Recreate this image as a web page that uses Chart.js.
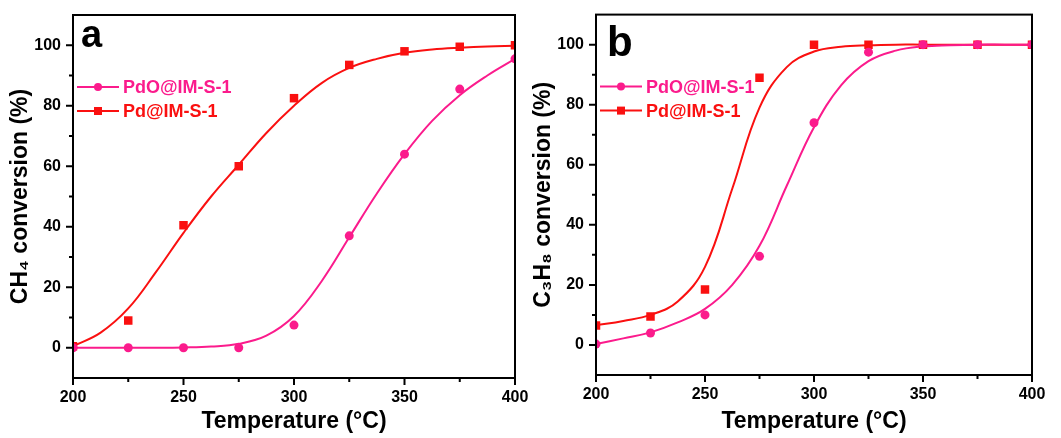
<!DOCTYPE html>
<html>
<head>
<meta charset="utf-8">
<title>CH4 / C3H8 conversion</title>
<script src="https://cdn.jsdelivr.net/npm/chart.js@4.4.0/dist/chart.umd.min.js"></script>
<style>
    html, body { margin: 0; padding: 0; background: #fff; }
    #wrap { position: relative; width: 1061px; height: 438px; overflow: hidden; }
    .panel { position: absolute; top: 0; height: 438px; }
    #panelA { left: 0; width: 545px; }
    #panelB { left: 530px; width: 531px; }
</style>
</head>
<body>
<div id="wrap">
    <div class="panel" id="panelA"><canvas id="chartA"></canvas></div>
    <div class="panel" id="panelB"><canvas id="chartB"></canvas></div>
</div>
<script>
// measured points
const temps = [200, 225, 250, 275, 300, 325, 350, 375, 400];
const ch4PdO = [0, 0, 0, 0, 7.5, 37, 64, 85.5, 95.5];
const ch4Pd = [0.5, 9, 40.5, 60, 82.5, 93.5, 98, 99.5, 100];
const c3h8PdO = [0.3, 4, 10, 29.5, 74, 97.5, 100, 100, 100];
const c3h8Pd = [6.5, 9.5, 18.5, 89, 100, 100, 100, 100, 100];

// fitted curves, every 12.5 °C
const fitTemps = [200, 212.5, 225, 237.5, 250, 262.5, 275, 287.5, 300, 312.5, 325, 337.5, 350, 362.5, 375, 387.5, 400];
const ch4PdOFit = [0, 0, 0, 0, 0.1, 0.4, 1.3, 4, 10.5, 22, 36.5, 51, 64, 75, 83.5, 90, 95.5];
const ch4PdFit = [0.5, 5, 13, 25, 38, 50, 60.5, 71, 80, 87.5, 92.5, 95.5, 97.5, 98.6, 99.2, 99.6, 99.8];
const c3h8PdOFit = [0.3, 2.2, 4.2, 7.5, 12, 20, 33, 53, 72.5, 86.5, 94.5, 98, 99.4, 99.8, 100, 100, 100];
const c3h8PdFit = [6.5, 8, 10, 14.5, 26, 52, 79, 92.5, 97.7, 99.3, 99.8, 100, 100, 100, 100, 100, 100];

// axis ticks
const xMajor = [200, 250, 300, 350, 400];
const xMinor = [225, 275, 325, 375];
const yMajor = [0, 20, 40, 60, 80, 100];
const yMinor = [10, 30, 50, 70, 90];

const PINK = '#fb1b8c';
const RED = '#fa1010';
const FONT = "'Liberation Sans', Arial, sans-serif";

function toXY(xs, ys) {
    return xs.map((x, i) => ({ x: x, y: ys[i] }));
}

// frame, minor/major ticks, legend and panel letter
const framePlugin = {
    id: 'frame',
    afterDatasetsDraw(chart, args, opts) {
        const { ctx, chartArea: a, scales: { x, y } } = chart;
        ctx.save();
        ctx.strokeStyle = '#000';
        ctx.lineWidth = 2;
        ctx.strokeRect(a.left, a.top, a.right - a.left, a.bottom - a.top);

        ctx.beginPath();
        yMajor.forEach(v => { const p = y.getPixelForValue(v); ctx.moveTo(a.left - 7, p); ctx.lineTo(a.left, p); });
        yMinor.forEach(v => { const p = y.getPixelForValue(v); ctx.moveTo(a.left - 4, p); ctx.lineTo(a.left, p); });
        xMajor.forEach(v => { const p = x.getPixelForValue(v); ctx.moveTo(p, a.bottom); ctx.lineTo(p, a.bottom + 7); });
        xMinor.forEach(v => { const p = x.getPixelForValue(v); ctx.moveTo(p, a.bottom); ctx.lineTo(p, a.bottom + 4); });
        ctx.stroke();

        // legend
        const items = chart.data.datasets.filter(d => d.showInLegend);
        items.forEach((d, i) => {
            const ly = a.top + 72 + i * 24;
            ctx.strokeStyle = d.borderColor;
            ctx.lineWidth = 2;
            ctx.beginPath();
            ctx.moveTo(a.left + 4, ly);
            ctx.lineTo(a.left + 46, ly);
            ctx.stroke();
            ctx.fillStyle = d.backgroundColor;
            const mx = a.left + 25;
            if (d.pointStyle === 'rect') {
                ctx.fillRect(mx - 4, ly - 4, 8, 8);
            } else {
                ctx.beginPath();
                ctx.arc(mx, ly, 4, 0, Math.PI * 2);
                ctx.fill();
            }
            ctx.font = 'bold 18px ' + FONT;
            ctx.textBaseline = 'middle';
            ctx.textAlign = 'left';
            ctx.fillText(d.label, a.left + 50, ly + 1);
        });

        // panel letter
        ctx.fillStyle = '#000';
        ctx.font = 'bold ' + opts.letterSize + 'px ' + FONT;
        ctx.textBaseline = 'alphabetic';
        ctx.fillText(opts.letter, a.left + opts.letterDx, a.top + opts.letterDy);
        ctx.restore();
    }
};

function makePanel(canvasId, cfg) {
    const ctx = document.getElementById(canvasId).getContext('2d');
    const tickFont = { family: FONT, size: 16, weight: 'bold' };

    return new Chart(ctx, {
        type: 'line',
        data: {
            datasets: [
                {
                    label: 'PdO@IM-S-1',
                    data: toXY(temps, cfg.pdo),
                    showLine: false,
                    pointStyle: 'circle',
                    pointRadius: 4.5,
                    pointBorderWidth: 0,
                    backgroundColor: PINK,
                    borderColor: PINK,
                    showInLegend: true,
                    order: 0
                },
                {
                    label: 'Pd@IM-S-1',
                    data: toXY(temps, cfg.pd),
                    showLine: false,
                    pointStyle: 'rect',
                    pointRadius: 6,
                    pointBorderWidth: 0,
                    backgroundColor: RED,
                    borderColor: RED,
                    showInLegend: true,
                    order: 0
                },
                {
                    label: 'PdO fit',
                    data: toXY(fitTemps, cfg.pdoFit),
                    borderColor: PINK,
                    borderWidth: 2,
                    pointRadius: 0,
                    tension: 0.4,
                    fill: false,
                    order: 1
                },
                {
                    label: 'Pd fit',
                    data: toXY(fitTemps, cfg.pdFit),
                    borderColor: RED,
                    borderWidth: 2,
                    pointRadius: 0,
                    tension: 0.4,
                    fill: false,
                    order: 1
                }
            ]
        },
        options: {
            responsive: true,
            maintainAspectRatio: false,
            animation: false,
            events: [],
            layout: { padding: { left: 0, right: cfg.padRight, top: cfg.padTop, bottom: 0 } },
            plugins: {
                legend: { display: false },
                tooltip: { enabled: false },
                frame: { letter: cfg.letter, letterSize: cfg.letterSize, letterDx: cfg.letterDx, letterDy: cfg.letterDy }
            },
            scales: {
                x: {
                    type: 'linear',
                    min: 200,
                    max: 400,
                    afterBuildTicks: s => { s.ticks = xMajor.map(v => ({ value: v })); },
                    afterFit: s => { s.height = cfg.xHeight; s.paddingLeft = 0; s.paddingRight = 0; },
                    grid: { display: true, drawOnChartArea: false, drawTicks: true, tickLength: 7, tickColor: 'rgba(0,0,0,0)' },
                    border: { display: false },
                    ticks: { font: tickFont, color: '#000', padding: 3, maxRotation: 0, autoSkip: false },
                    title: {
                        display: true,
                        text: 'Temperature (°C)',
                        color: '#000',
                        font: { family: FONT, size: 23, weight: 'bold' },
                        padding: { top: 0, bottom: 3 }
                    }
                },
                y: {
                    min: -10,
                    max: 110,
                    afterBuildTicks: s => { s.ticks = yMajor.map(v => ({ value: v })); },
                    afterFit: s => { s.width = cfg.yWidth; },
                    grid: { display: true, drawOnChartArea: false, drawTicks: true, tickLength: 7, tickColor: 'rgba(0,0,0,0)' },
                    border: { display: false },
                    ticks: { font: tickFont, color: '#000', padding: 5 },
                    title: {
                        display: true,
                        text: cfg.yTitle,
                        color: '#000',
                        font: { family: FONT, size: 23, weight: 'bold' },
                        padding: { top: cfg.yTitlePad, bottom: 0 }
                    }
                }
            }
        },
        plugins: [framePlugin]
    });
}

makePanel('chartA', {
    pdo: ch4PdO, pd: ch4Pd, pdoFit: ch4PdOFit, pdFit: ch4PdFit,
    yTitle: 'CH₄ conversion (%)',
    letter: 'a', letterSize: 38, letterDx: 8, letterDy: 32,
    padRight: 30, padTop: 15, yWidth: 73, xHeight: 60, yTitlePad: 7
});

makePanel('chartB', {
    pdo: c3h8PdO, pd: c3h8Pd, pdoFit: c3h8PdOFit, pdFit: c3h8PdFit,
    yTitle: 'C₃H₈ conversion (%)',
    letter: 'b', letterSize: 42, letterDx: 11, letterDy: 41,
    padRight: 29, padTop: 14, yWidth: 66, xHeight: 63, yTitlePad: 0
});
</script>
</body>
</html>
